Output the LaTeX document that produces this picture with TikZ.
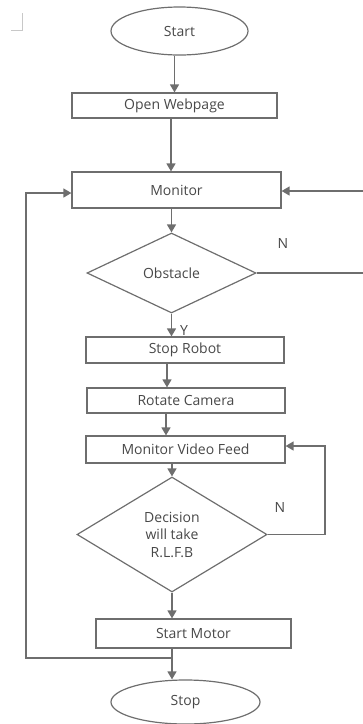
\documentclass[tikz,border=0pt]{standalone}
\usepackage{fontspec}
\setmainfont{Open Sans}
\usepackage{tikz}
\usetikzlibrary{shapes.geometric, arrows.meta, calc, positioning}
\tikzset{>={Triangle[width=9pt,length=8pt]}}
\definecolor{myline}{HTML}{6E6E6E}
\definecolor{mytext}{HTML}{484848}
\definecolor{mymark}{HTML}{C8C8C8}

\begin{document}
\begin{tikzpicture}[x=1pt, y=-1pt,
		box/.style={draw=myline, rectangle, line width=1.2pt, inner sep=0pt, text=mytext, font=\fontsize{14}{17.5}\selectfont},
		term/.style={draw=myline, ellipse, line width=1.2pt, inner sep=0pt, text=mytext, font=\fontsize{14}{17.5}\selectfont},
		decide/.style={draw=myline, diamond, line width=1.2pt, inner sep=0pt, text=mytext, align=center, font=\fontsize{14}{17.5}\selectfont},
		lbl/.style={text=mytext, inner sep=0pt, font=\fontsize{14}{17.5}\selectfont},
		flow/.style={->, draw=myline, line width=1.4pt}]
			\useasboundingbox (0,0) rectangle (363,724);
			\draw [mymark, line width=0.8pt] (11,30) -- (22,30) -- (22,13);
			% nodes
			\node[term, minimum width=137pt, minimum height=48pt] (start) at (179.5,31) {Start};
			\node[box, minimum width=205pt, minimum height=25pt] (webpage) at (174.5,105.5) {Open Webpage};
			\node[box, minimum width=209pt, minimum height=36pt] (monitor) at (176.5,190) {Monitor};
			\node[decide, minimum width=169pt, minimum height=80pt] (obstacle) at (171.5,273) {Obstacle};
			\node[box, minimum width=198pt, minimum height=26pt] (stoprobot) at (185,350) {Stop Robot};
			\node[box, minimum width=198pt, minimum height=25pt] (rotate) at (186,400.5) {Rotate Camera};
			\node[box, minimum width=199pt, minimum height=27pt] (videofeed) at (185.5,449.5) {Monitor Video Feed};
			\node[decide, minimum width=190pt, minimum height=115pt] (decision) at (172,534.5) {Decision\\will take\\R.L.F.B};
			\node[box, minimum width=195pt, minimum height=29pt] (startmotor) at (193.5,633.5) {Start Motor};
			\node[term, minimum width=149pt, minimum height=44pt] (stop) at (185.5,702) {Stop};
			\node[lbl] (nobst) at (283,243) {N};
			\node[lbl] (yobst) at (184,330) {Y};
			\node[lbl] (ndec) at (280,507) {N};
			\coordinate (loopR) at (368,230);
			\coordinate (loopV) at (325,490);
			\coordinate (loopL) at (26,658);
			% connectors
			\draw[flow] (webpage.north |- start.south) -- (webpage.north);
			\draw[flow] ([xshift=-3.5pt]webpage.south) -- ([xshift=-3.5pt]webpage.south |- monitor.north);
			\draw[flow] (obstacle.north |- monitor.south) -- (obstacle.north);
			\draw[flow] (obstacle.south) -- (obstacle.south |- stoprobot.north);
			\draw[flow] ([xshift=-18pt]stoprobot.south) -- ([xshift=-18pt]stoprobot.south |- rotate.north);
			\draw[flow] ([xshift=-20pt]rotate.south) -- ([xshift=-20pt]rotate.south |- videofeed.north);
			\draw[flow] (decision.north |- videofeed.south) -- (decision.north);
			\draw[flow] (decision.south) -- (decision.south |- startmotor.north);
			\draw[flow] (decision.south |- startmotor.south) -- (decision.south |- stop.north);
			\draw[flow] (obstacle.east) -| (loopR) |- ([yshift=-1pt]monitor.east);
			\draw[flow] (decision.east) -| (loopV) |- ([yshift=3.5pt]videofeed.east);
			\draw[flow] (decision.south |- loopL) -- (loopL) |- ([yshift=-3pt]monitor.west);
		\end{tikzpicture}
\end{document}
